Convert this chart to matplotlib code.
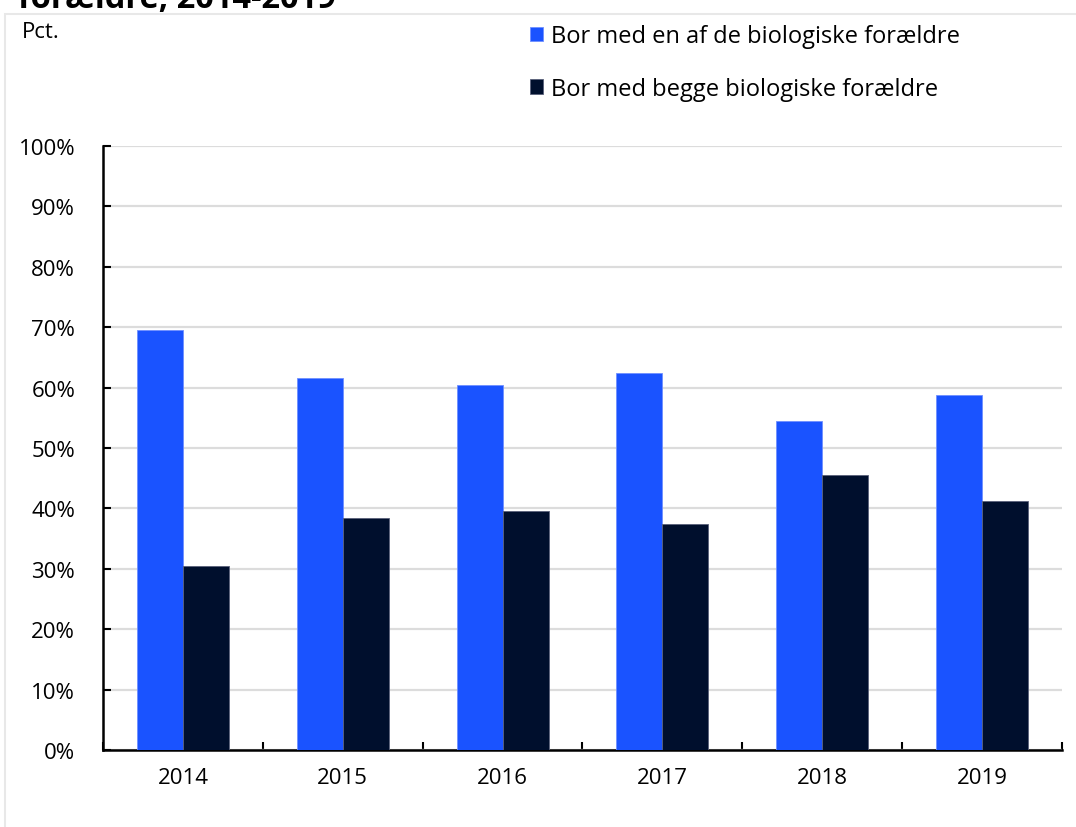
import numpy as np
import matplotlib.pyplot as plt
from matplotlib.patches import Rectangle
from matplotlib.ticker import FuncFormatter

# data
years = ["2014", "2015", "2016", "2017", "2018", "2019"]
en_foraelder = [69.6, 61.6, 60.5, 62.5, 54.5, 58.7]
begge_foraeldre = [30.4, 38.4, 39.5, 37.5, 45.5, 41.3]
series_names = ["Bor med en af de biologiske forældre",
                "Bor med begge biologiske forældre"]
yticks = [0, 10, 20, 30, 40, 50, 60, 70, 80, 90, 100]

BLUE = "#1a53ff"
NAVY = "#000f2d"
FONT = ["Open Sans", "DejaVu Sans"]

plt.rcParams['font.family'] = FONT

fig = plt.figure(figsize=(10.76, 8.28), dpi=100)

# light panel frame
fig.patches.append(Rectangle((5 / 1076, -0.05), 1.2, 1 - 15 / 828 + 0.05,
                             transform=fig.transFigure, fill=False,
                             edgecolor="#e8e8e8", linewidth=1.5, zorder=0))

# clipped title at the very top
fig.text(18 / 1076, 1 - 8 / 828, "forældre, 2014-2019", fontsize=23.5,
         fontweight="bold", ha="left", va="baseline", color="black")

ax = fig.add_axes([103 / 1076, 77 / 828, 959 / 1076, 604 / 828])

x = np.arange(len(years))
w = 0.2875
ax.bar(x - w / 2, en_foraelder, w, color=BLUE, edgecolor="#6f8fff",
       linewidth=0.6, label=series_names[0], zorder=3)
ax.bar(x + w / 2, begge_foraeldre, w, color=NAVY, edgecolor="#59607a",
       linewidth=0.6, label=series_names[1], zorder=3)

ax.set_xlim(-0.5, len(years) - 0.5)
ax.set_ylim(0, 100)
ax.set_yticks(yticks)
ax.yaxis.set_major_formatter(FuncFormatter(lambda v, p: f"{v:.0f}%"))
ax.yaxis.grid(True, color="#dcdcdc", linewidth=1.6, zorder=0)
ax.set_axisbelow(True)

# category boundaries get the ticks, labels sit at centres
ax.set_xticks(np.arange(-0.5, len(years)), labels=[""] * (len(years) + 1))
ax.set_xticks(x, labels=years, minor=True)
ax.tick_params(axis="x", which="major", direction="in", length=6, width=1.5)
ax.tick_params(axis="x", which="minor", length=0, pad=12, labelsize=16)
ax.tick_params(axis="y", direction="in", length=6, width=1.5, pad=20,
               labelsize=16)

for s in ["top", "right"]:
    ax.spines[s].set_visible(False)
for s in ["left", "bottom"]:
    ax.spines[s].set_linewidth(1.8)

fig.text(22 / 1076, 1 - 33 / 828, "Pct.", fontsize=16, ha="left", va="center")

ax.legend(loc="upper left", bbox_to_anchor=(521 / 1076, 1 - 16 / 828),
          bbox_transform=fig.transFigure, frameon=False, fontsize=17,
          handlelength=0.55, handleheight=0.55, handletextpad=0.3,
          labelspacing=1.2, borderaxespad=0)

fig.savefig("out.png", dpi=100)
